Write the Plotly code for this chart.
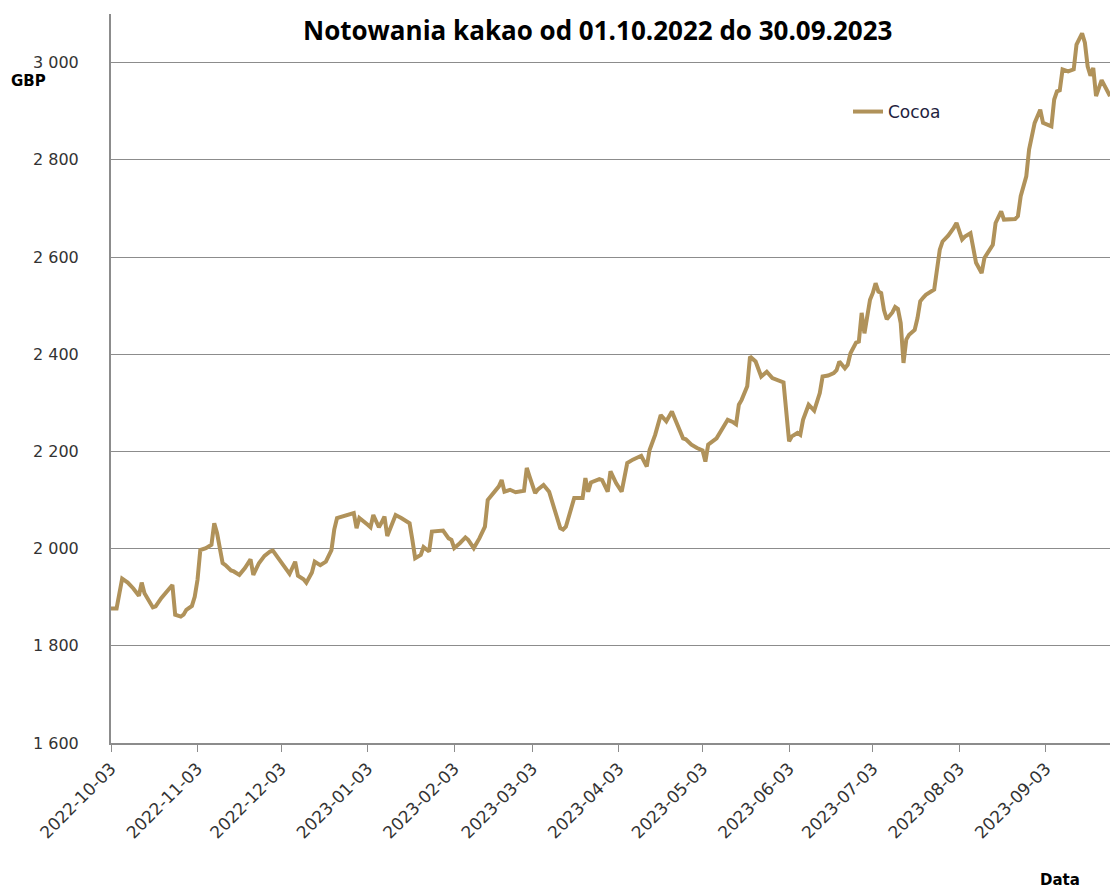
import plotly.graph_objects as go

dates = [
    "2022-10-03", "2022-10-05", "2022-10-07", "2022-10-09", "2022-10-11", "2022-10-13", "2022-10-14",
    "2022-10-15", "2022-10-18", "2022-10-19", "2022-10-21", "2022-10-23", "2022-10-25", "2022-10-26",
    "2022-10-28", "2022-10-29", "2022-10-30", "2022-11-01", "2022-11-02", "2022-11-03", "2022-11-04",
    "2022-11-06", "2022-11-08", "2022-11-09", "2022-11-10", "2022-11-12", "2022-11-13", "2022-11-15",
    "2022-11-16", "2022-11-18", "2022-11-20", "2022-11-22", "2022-11-23", "2022-11-25", "2022-11-27",
    "2022-11-29", "2022-11-30", "2022-12-02", "2022-12-04", "2022-12-06", "2022-12-08", "2022-12-09",
    "2022-12-11", "2022-12-12", "2022-12-14", "2022-12-15", "2022-12-17", "2022-12-19", "2022-12-21",
    "2022-12-22", "2022-12-23", "2022-12-26", "2022-12-29", "2022-12-30", "2022-12-31", "2023-01-03",
    "2023-01-04", "2023-01-05", "2023-01-07", "2023-01-08", "2023-01-09", "2023-01-10", "2023-01-12",
    "2023-01-13", "2023-01-15", "2023-01-18", "2023-01-19", "2023-01-20", "2023-01-22", "2023-01-23",
    "2023-01-25", "2023-01-26", "2023-01-30", "2023-02-01", "2023-02-02", "2023-02-03", "2023-02-05",
    "2023-02-07", "2023-02-08", "2023-02-10", "2023-02-12", "2023-02-14", "2023-02-15", "2023-02-17",
    "2023-02-19", "2023-02-20", "2023-02-21", "2023-02-23", "2023-02-25", "2023-02-28", "2023-03-01",
    "2023-03-02", "2023-03-04", "2023-03-05", "2023-03-07", "2023-03-09", "2023-03-11", "2023-03-13",
    "2023-03-14", "2023-03-15", "2023-03-18", "2023-03-21", "2023-03-22", "2023-03-23", "2023-03-24",
    "2023-03-27", "2023-03-28", "2023-03-30", "2023-03-31", "2023-04-02", "2023-04-04", "2023-04-06",
    "2023-04-08", "2023-04-11", "2023-04-13", "2023-04-14", "2023-04-16", "2023-04-18", "2023-04-20",
    "2023-04-22", "2023-04-23", "2023-04-25", "2023-04-26", "2023-04-27", "2023-04-29", "2023-05-01",
    "2023-05-03", "2023-05-04", "2023-05-05", "2023-05-08", "2023-05-11", "2023-05-12", "2023-05-14",
    "2023-05-15", "2023-05-16", "2023-05-17", "2023-05-19", "2023-05-20", "2023-05-22", "2023-05-23",
    "2023-05-24", "2023-05-26", "2023-05-28", "2023-06-01", "2023-06-03", "2023-06-04", "2023-06-06",
    "2023-06-07", "2023-06-08", "2023-06-10", "2023-06-12", "2023-06-14", "2023-06-15", "2023-06-17",
    "2023-06-19", "2023-06-20", "2023-06-21", "2023-06-23", "2023-06-24", "2023-06-25", "2023-06-27",
    "2023-06-28", "2023-06-29", "2023-06-30", "2023-07-01", "2023-07-02", "2023-07-03", "2023-07-04",
    "2023-07-05", "2023-07-06", "2023-07-07", "2023-07-08", "2023-07-10", "2023-07-11", "2023-07-12",
    "2023-07-13", "2023-07-14", "2023-07-15", "2023-07-16", "2023-07-18", "2023-07-19", "2023-07-20",
    "2023-07-21", "2023-07-22", "2023-07-25", "2023-07-26", "2023-07-27", "2023-07-28", "2023-07-30",
    "2023-08-01", "2023-08-02", "2023-08-04", "2023-08-05", "2023-08-07", "2023-08-09", "2023-08-11",
    "2023-08-12", "2023-08-15", "2023-08-16", "2023-08-18", "2023-08-19", "2023-08-23", "2023-08-24",
    "2023-08-25", "2023-08-27", "2023-08-28", "2023-08-30", "2023-09-01", "2023-09-02", "2023-09-05",
    "2023-09-06", "2023-09-07", "2023-09-08", "2023-09-09", "2023-09-11", "2023-09-13", "2023-09-14",
    "2023-09-16", "2023-09-17", "2023-09-18", "2023-09-19", "2023-09-20", "2023-09-21", "2023-09-23",
    "2023-09-25", "2023-09-26",
]

cocoa = [
    1877, 1877, 1938, 1930, 1918, 1903, 1930,
    1908, 1879, 1881, 1898, 1912, 1925, 1864,
    1860, 1864, 1874, 1882, 1901, 1936, 1997,
    2001, 2008, 2052, 2032, 1970, 1966, 1955,
    1953, 1946, 1960, 1978, 1946, 1970, 1985,
    1994, 1996, 1980, 1963, 1948, 1973, 1944,
    1937, 1930, 1951, 1973, 1966, 1973, 1997,
    2039, 2063, 2067, 2073, 2042, 2063, 2049,
    2044, 2069, 2044, 2054, 2066, 2026, 2054,
    2069, 2063, 2052, 2018, 1980, 1987, 2003,
    1994, 2035, 2037, 2021, 2018, 2001, 2011,
    2023, 2018, 2001, 2021, 2045, 2100, 2114,
    2128, 2141, 2117, 2121, 2116, 2119, 2166,
    2148, 2114, 2122, 2131, 2117, 2076, 2042,
    2039, 2045, 2104, 2104, 2145, 2117, 2136,
    2143, 2141, 2117, 2159, 2135, 2117, 2176,
    2183, 2191, 2169, 2203, 2234, 2275, 2262,
    2282, 2268, 2241, 2227, 2225, 2214, 2207,
    2202, 2179, 2214, 2227, 2255, 2265, 2260,
    2256, 2296, 2306, 2334, 2395, 2385, 2371,
    2354, 2364, 2351, 2342, 2221, 2231, 2238,
    2234, 2265, 2296, 2284, 2320, 2354, 2356,
    2361, 2367, 2385, 2371, 2378, 2402, 2424,
    2426, 2485, 2443, 2474, 2512, 2526, 2546,
    2529, 2526, 2491, 2472, 2486, 2497, 2493,
    2464, 2382, 2430, 2440, 2450, 2474, 2509,
    2516, 2522, 2533, 2581, 2615, 2632, 2644,
    2660, 2670, 2636, 2642, 2649, 2588, 2567,
    2598, 2625, 2670, 2694, 2677, 2678, 2684,
    2725, 2766, 2821, 2876, 2903, 2876, 2869,
    2924, 2941, 2943, 2986, 2982, 2986, 3037,
    3060, 3041, 2992, 2973, 2989, 2931, 2964,
    2941, 2931,
]

x_ticks = ["2022-10-03", "2022-11-03", "2022-12-03", "2023-01-03", "2023-02-03", "2023-03-03",
           "2023-04-03", "2023-05-03", "2023-06-03", "2023-07-03", "2023-08-03", "2023-09-03"]
y_ticks = [1600, 1800, 2000, 2200, 2400, 2600, 2800, 3000]
y_tick_labels = ["1 600", "1 800", "2 000", "2 200", "2 400", "2 600", "2 800", "3 000"]

title_text = "Notowania kakao od 01.10.2022 do 30.09.2023"
series_name = "Cocoa"

line_color = "#B0925A"
grid_color = "#8C8C8C"
text_color = "#333333"

W, H = 1110, 890
PLOT_L, PLOT_T, PLOT_W, PLOT_H = 111, 14, 999, 729  # plot area in window pixels


def px(xw):
    return (xw - PLOT_L) / PLOT_W


def py(yw):
    return 1 - (yw - PLOT_T) / PLOT_H


fig = go.Figure()
fig.add_trace(go.Scatter(
    x=dates, y=cocoa, mode="lines", name=series_name,
    line=dict(color=line_color, width=4),
))

fig.update_layout(
    width=W, height=H,
    margin=dict(l=PLOT_L, r=W - PLOT_L - PLOT_W, t=PLOT_T, b=H - PLOT_T - PLOT_H),
    paper_bgcolor="white", plot_bgcolor="white",
    font=dict(family="DejaVu Sans", size=16, color=text_color),
    showlegend=True,
    legend=dict(x=px(848), y=py(112), xanchor="left", yanchor="middle",
                bgcolor="rgba(0,0,0,0)", font=dict(family="DejaVu Sans", size=17, color="#1F1F3F")),
    xaxis=dict(
        type="date",
        range=["2022-10-03", "2023-09-26"],
        tickvals=x_ticks, ticktext=x_ticks,
        tickangle=-45,
        ticks="outside", ticklen=7, tickcolor=grid_color, tickwidth=1,
        showgrid=False, showline=True, linecolor=grid_color, linewidth=2,
        tickfont=dict(family="DejaVu Sans", size=17, color=text_color),
        zeroline=False,
    ),
    yaxis=dict(
        range=[1600, 3100],
        tickvals=y_ticks, ticktext=y_tick_labels,
        ticks="outside", ticklen=0, tickcolor="rgba(0,0,0,0)",
        showgrid=True, gridcolor=grid_color, gridwidth=1,
        showline=True, linecolor=grid_color, linewidth=2,
        tickfont=dict(family="DejaVu Sans", size=16, color=text_color),
        ticklabelstandoff=27,
        zeroline=False,
    ),
)

fig.add_annotation(text="<b>" + title_text + "</b>", xref="paper", yref="paper",
                   x=px(597), y=py(30), xanchor="center", yanchor="middle",
                   showarrow=False, font=dict(family="Open Sans", size=26, color="#000000"))
fig.add_annotation(text="<b>GBP</b>", xref="paper", yref="paper",
                   x=px(9), y=py(81), xanchor="left", yanchor="middle",
                   showarrow=False, font=dict(family="DejaVu Sans", size=15, color="#000000"))
fig.add_annotation(text="<b>Data</b>", xref="paper", yref="paper",
                   x=px(1060), y=py(880), xanchor="center", yanchor="middle",
                   showarrow=False, font=dict(family="DejaVu Sans", size=15, color="#000000"))

fig.write_html(
    "out.html",
    config={"displayModeBar": False},
    post_script="document.body.style.margin='0';document.body.style.overflow='hidden';",
)
